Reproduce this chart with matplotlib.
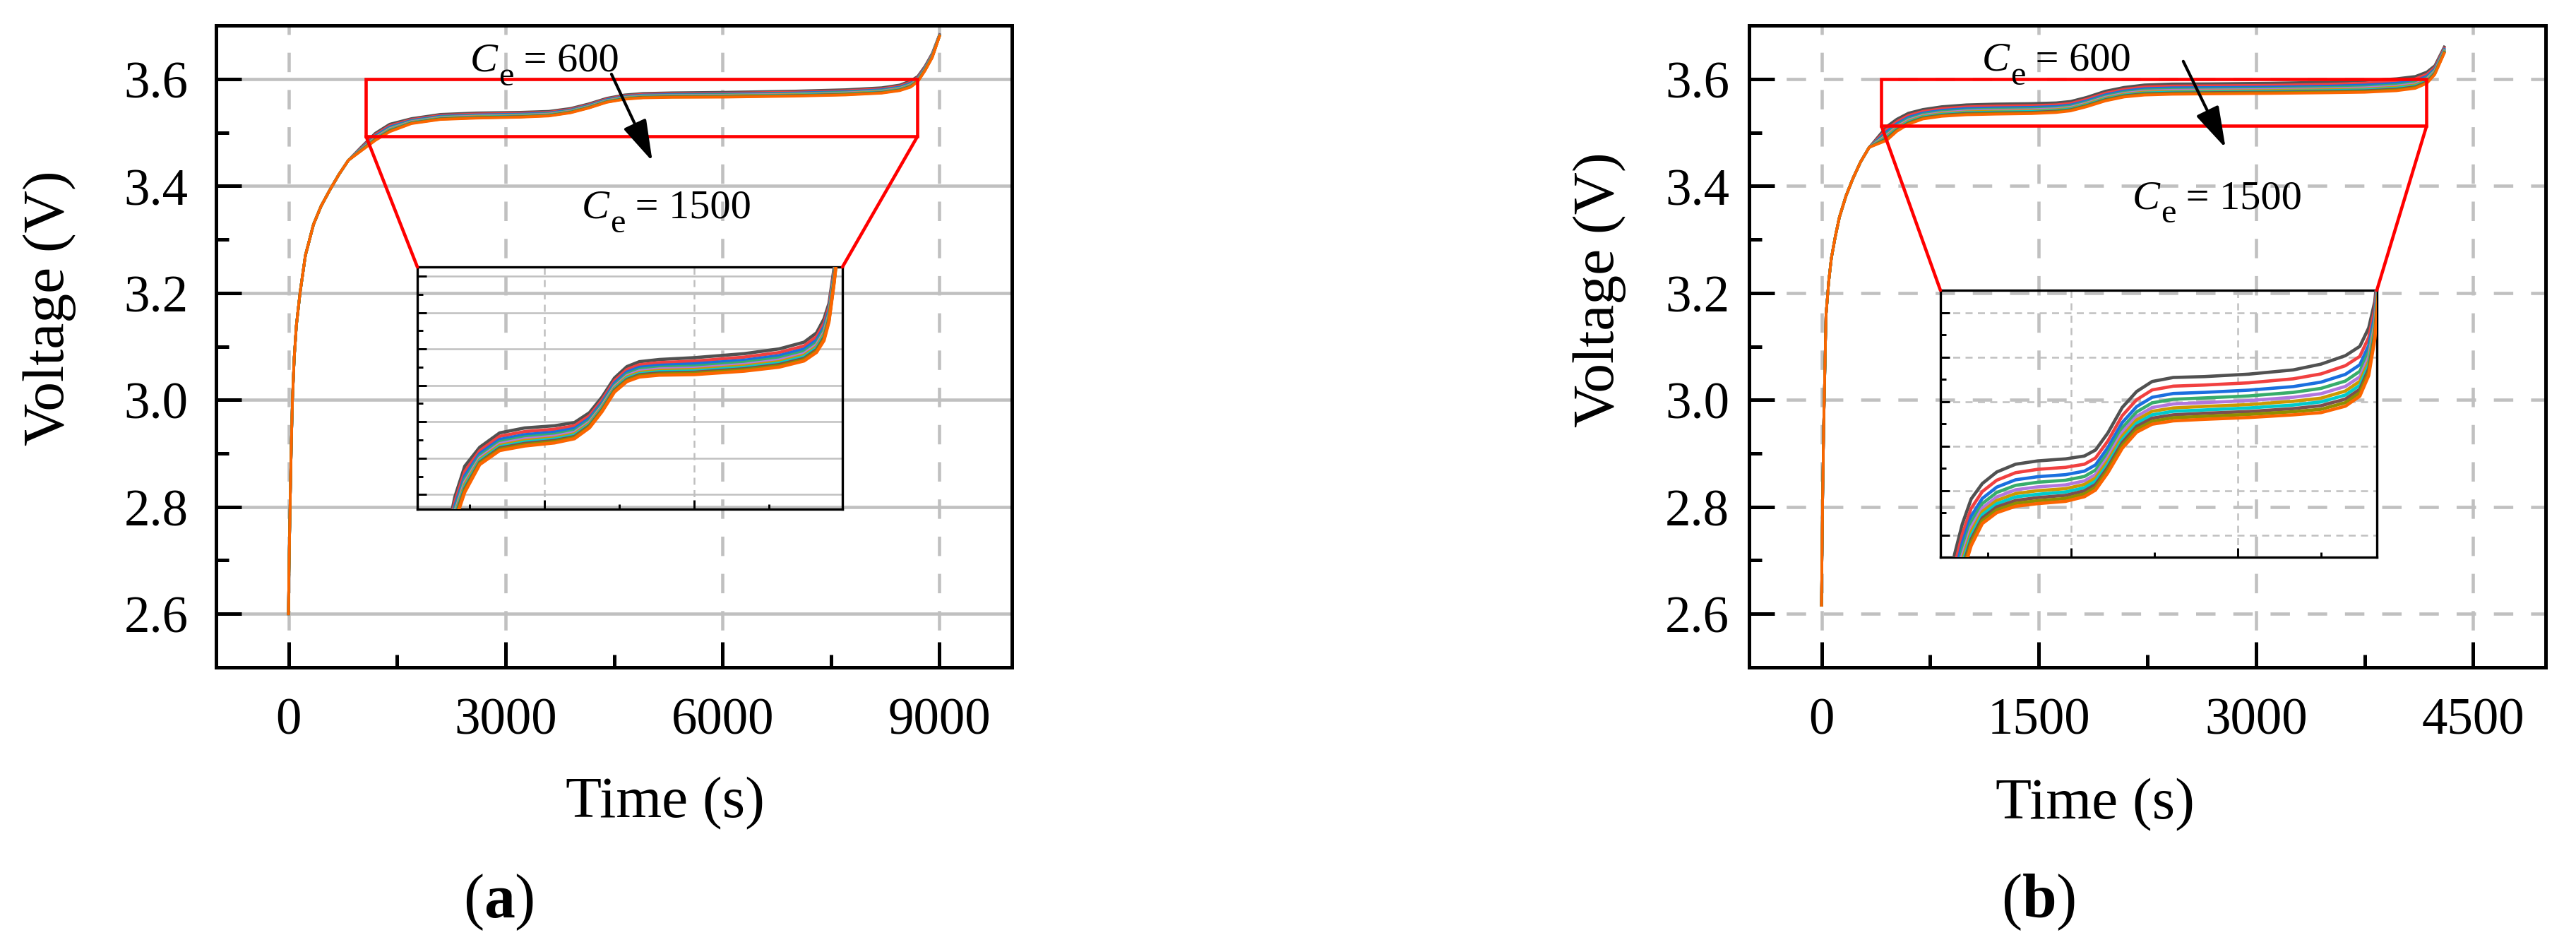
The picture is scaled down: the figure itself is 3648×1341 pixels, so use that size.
import matplotlib
matplotlib.use('Agg')
import matplotlib.pyplot as plt
from matplotlib.patches import Rectangle, ConnectionPatch
from matplotlib.ticker import MultipleLocator, FormatStrFormatter

plt.rcParams['font.family'] = ['Liberation Serif', 'DejaVu Serif']
plt.rcParams['mathtext.fontset'] = 'custom'
plt.rcParams['mathtext.rm'] = 'Liberation Serif'
plt.rcParams['mathtext.it'] = 'Liberation Serif:italic'
plt.rcParams['mathtext.bf'] = 'Liberation Serif:bold'

# C_e values of the curves (top to bottom)
ce_values = [600, 700, 800, 900, 1000, 1100, 1200, 1300, 1400, 1500]
colors = ['#515151', '#F14040', '#1A6FDF', '#37AD6B', '#B177DE',
          '#CC9900', '#00CBCC', '#7D4E4E', '#8E8E00', '#FB6501']

# ---- (a) : start part is common to all curves ----
time_a_start = [0, 5, 12, 25, 40, 55, 80, 110, 160, 234, 346, 450, 570, 700, 829]
volt_a_start = [2.600, 2.660, 2.720, 2.820, 2.920, 3.000, 3.080, 3.140, 3.200,
                3.270, 3.328, 3.362, 3.392, 3.422, 3.448]
time_a = [1000, 1200, 1400, 1700, 2100, 2600, 3200, 3600, 3900, 4150, 4400, 4650,
          4900, 5300, 6000, 7000, 7700, 8200, 8450, 8600, 8700, 8800, 8900, 9000]
volt_a = [
    [3.4720, 3.4986, 3.5156, 3.5260, 3.5339, 3.5366, 3.5378, 3.5396, 3.5450, 3.5535, 3.5640, 3.5703,
     3.5730, 3.5742, 3.5752, 3.5774, 3.5800, 3.5837, 3.5888, 3.5965, 3.6050, 3.6240, 3.6480, 3.6830],
    [3.4706, 3.4959, 3.5127, 3.5241, 3.5320, 3.5346, 3.5359, 3.5378, 3.5433, 3.5519, 3.5625, 3.5687,
     3.5713, 3.5725, 3.5733, 3.5755, 3.5780, 3.5816, 3.5867, 3.5941, 3.6030, 3.6223, 3.6464, 3.6824],
    [3.4694, 3.4936, 3.5103, 3.5225, 3.5303, 3.5329, 3.5343, 3.5363, 3.5419, 3.5505, 3.5612, 3.5673,
     3.5699, 3.5710, 3.5718, 3.5738, 3.5763, 3.5799, 3.5848, 3.5921, 3.6013, 3.6209, 3.6450, 3.6819],
    [3.4685, 3.4918, 3.5084, 3.5212, 3.5290, 3.5316, 3.5331, 3.5351, 3.5408, 3.5495, 3.5601, 3.5662,
     3.5688, 3.5699, 3.5705, 3.5726, 3.5750, 3.5785, 3.5834, 3.5905, 3.5999, 3.6197, 3.6440, 3.6815],
    [3.4677, 3.4903, 3.5069, 3.5202, 3.5280, 3.5306, 3.5321, 3.5342, 3.5399, 3.5486, 3.5593, 3.5653,
     3.5679, 3.5690, 3.5695, 3.5715, 3.5739, 3.5774, 3.5823, 3.5892, 3.5988, 3.6188, 3.6431, 3.6812],
    [3.4671, 3.4891, 3.5056, 3.5193, 3.5271, 3.5297, 3.5312, 3.5334, 3.5392, 3.5479, 3.5586, 3.5646,
     3.5671, 3.5682, 3.5687, 3.5707, 3.5730, 3.5765, 3.5813, 3.5882, 3.5979, 3.6180, 3.6424, 3.6809],
    [3.4665, 3.4880, 3.5044, 3.5186, 3.5263, 3.5289, 3.5305, 3.5327, 3.5385, 3.5473, 3.5580, 3.5639,
     3.5664, 3.5675, 3.5679, 3.5699, 3.5722, 3.5757, 3.5805, 3.5872, 3.5971, 3.6174, 3.6418, 3.6807],
    [3.4660, 3.4869, 3.5033, 3.5178, 3.5256, 3.5281, 3.5297, 3.5319, 3.5379, 3.5466, 3.5574, 3.5632,
     3.5658, 3.5668, 3.5672, 3.5691, 3.5714, 3.5748, 3.5796, 3.5863, 3.5963, 3.6167, 3.6411, 3.6804],
    [3.4655, 3.4860, 3.5023, 3.5172, 3.5249, 3.5274, 3.5291, 3.5313, 3.5373, 3.5461, 3.5568, 3.5627,
     3.5652, 3.5662, 3.5666, 3.5685, 3.5707, 3.5741, 3.5788, 3.5854, 3.5956, 3.6161, 3.6406, 3.6802],
    [3.4650, 3.4850, 3.5013, 3.5165, 3.5242, 3.5267, 3.5284, 3.5307, 3.5367, 3.5455, 3.5563, 3.5621,
     3.5646, 3.5656, 3.5659, 3.5678, 3.5700, 3.5734, 3.5781, 3.5846, 3.5949, 3.6155, 3.6400, 3.6800],
]

# ---- (b) ----
time_b_start = [0, 3, 8, 15, 31, 50, 68, 95, 124, 170, 217, 270, 329]
volt_b_start = [2.616, 2.700, 2.820, 2.950, 3.158, 3.222, 3.265, 3.305, 3.342,
                3.382, 3.414, 3.445, 3.472]
time_b = [450, 520, 600, 700, 830, 1000, 1200, 1450, 1620, 1720, 1830, 1960,
          2090, 2230, 2420, 2700, 3100, 3500, 3750, 3970, 4100, 4180, 4235, 4300]
volt_b = [
    [3.5112, 3.5249, 3.5362, 3.5431, 3.5483, 3.5518, 3.5533, 3.5542, 3.5555, 3.5582, 3.5658, 3.5773,
     3.5845, 3.5890, 3.5908, 3.5912, 3.5923, 3.5942, 3.5968, 3.6006, 3.6048, 3.6131, 3.6250, 3.6600],
    [3.5060, 3.5203, 3.5320, 3.5395, 3.5446, 3.5480, 3.5495, 3.5504, 3.5518, 3.5546, 3.5622, 3.5736,
     3.5808, 3.5852, 3.5869, 3.5874, 3.5884, 3.5902, 3.5924, 3.5961, 3.6003, 3.6088, 3.6216, 3.6576],
    [3.5015, 3.5164, 3.5284, 3.5364, 3.5415, 3.5448, 3.5462, 3.5471, 3.5487, 3.5515, 3.5592, 3.5705,
     3.5777, 3.5819, 3.5836, 3.5841, 3.5851, 3.5867, 3.5887, 3.5922, 3.5965, 3.6052, 3.6188, 3.6556],
    [3.4981, 3.5134, 3.5257, 3.5341, 3.5391, 3.5423, 3.5437, 3.5446, 3.5463, 3.5492, 3.5568, 3.5681,
     3.5753, 3.5794, 3.5810, 3.5816, 3.5825, 3.5841, 3.5859, 3.5892, 3.5936, 3.6024, 3.6166, 3.6540],
    [3.4952, 3.5109, 3.5234, 3.5321, 3.5371, 3.5403, 3.5416, 3.5425, 3.5443, 3.5472, 3.5549, 3.5661,
     3.5733, 3.5773, 3.5789, 3.5795, 3.5804, 3.5819, 3.5835, 3.5868, 3.5911, 3.6000, 3.6148, 3.6527],
    [3.4929, 3.5089, 3.5215, 3.5305, 3.5355, 3.5386, 3.5399, 3.5408, 3.5427, 3.5456, 3.5533, 3.5644,
     3.5717, 3.5756, 3.5771, 3.5778, 3.5786, 3.5801, 3.5815, 3.5847, 3.5891, 3.5981, 3.6132, 3.6516],
    [3.4908, 3.5070, 3.5198, 3.5291, 3.5340, 3.5371, 3.5383, 3.5393, 3.5412, 3.5442, 3.5518, 3.5629,
     3.5702, 3.5740, 3.5756, 3.5762, 3.5771, 3.5784, 3.5798, 3.5829, 3.5873, 3.5964, 3.6119, 3.6506],
    [3.4887, 3.5052, 3.5181, 3.5276, 3.5326, 3.5355, 3.5368, 3.5378, 3.5398, 3.5427, 3.5504, 3.5615,
     3.5688, 3.5725, 3.5740, 3.5747, 3.5755, 3.5768, 3.5781, 3.5811, 3.5855, 3.5947, 3.6106, 3.6497],
    [3.4868, 3.5036, 3.5167, 3.5264, 3.5313, 3.5342, 3.5354, 3.5364, 3.5385, 3.5415, 3.5492, 3.5602,
     3.5675, 3.5711, 3.5727, 3.5733, 3.5742, 3.5754, 3.5765, 3.5795, 3.5840, 3.5932, 3.6094, 3.6488],
    [3.4850, 3.5020, 3.5152, 3.5251, 3.5300, 3.5329, 3.5341, 3.5351, 3.5372, 3.5402, 3.5479, 3.5589,
     3.5662, 3.5698, 3.5713, 3.5720, 3.5728, 3.5740, 3.5750, 3.5779, 3.5824, 3.5917, 3.6082, 3.6480],
]

GRID = '#c0c0c0'


def plot_curves(ax, t_start, v_start, t, rows, lw):
    for k, row in enumerate(rows):
        ax.plot(t_start + t, v_start + row, color=colors[k], lw=lw, zorder=3)


def style_main(ax, xlim, xmajor, ylab_pad, hgrid_ls):
    ax.set_xlim(*xlim)
    ax.set_ylim(2.5, 3.7)
    ax.xaxis.set_major_locator(MultipleLocator(xmajor))
    ax.xaxis.set_minor_locator(MultipleLocator(xmajor / 2))
    ax.yaxis.set_major_locator(MultipleLocator(0.2))
    ax.yaxis.set_minor_locator(MultipleLocator(0.1))
    ax.yaxis.set_major_formatter(FormatStrFormatter('%.1f'))
    ax.tick_params(which='both', direction='in', top=False, right=False, width=1.2)
    ax.tick_params(which='major', length=8.6, labelsize=17.5)
    ax.tick_params(axis='x', which='major', pad=10)
    ax.tick_params(axis='y', which='major', pad=ylab_pad)
    ax.tick_params(which='minor', length=4.3)
    for s in ax.spines.values():
        s.set_linewidth(1.2)
    ax.set_axisbelow(True)
    ax.xaxis.grid(True, color=GRID, lw=1.1, ls=(0, (6, 5.5)))
    ax.yaxis.grid(True, color=GRID, lw=1.1, ls=hgrid_ls)


def style_inset(ins, xlim, ylim, xmajor, hgrid_ls):
    ins.set_xlim(*xlim)
    ins.set_ylim(*ylim)
    ins.set_facecolor('none')
    ins.xaxis.set_major_locator(MultipleLocator(xmajor))
    ins.xaxis.set_minor_locator(MultipleLocator(xmajor / 2))
    ins.yaxis.set_major_locator(MultipleLocator(0.02))
    ins.yaxis.set_minor_locator(MultipleLocator(0.01))
    ins.tick_params(which='both', direction='in', top=False, right=False,
                    labelbottom=False, labelleft=False, width=0.7)
    ins.tick_params(which='major', length=3.2)
    ins.tick_params(which='minor', length=1.8)
    for s in ins.spines.values():
        s.set_linewidth(0.8)
    ins.set_axisbelow(True)
    ins.xaxis.grid(True, color=GRID, lw=0.6, ls=(0, (4, 3)))
    ins.yaxis.grid(True, color=GRID, lw=0.6, ls=hgrid_ls)


def zoom_box(fig, ax, ins, x0, x1, y0, y1):
    ax.add_patch(Rectangle((x0, y0), x1 - x0, y1 - y0, fill=False,
                           ec='red', lw=1.1, zorder=6))
    for xa, xb in [(x0, 0), (x1, 1)]:
        con = ConnectionPatch(xyA=(xa, y0), coordsA=ax.transData,
                              xyB=(xb, 1), coordsB=ins.transAxes,
                              color='red', lw=1.1)
        fig.add_artist(con)


def ce_text(ax, xy, value):
    # italic C, large lowered subscript e, then "= value"
    ax.text(xy[0], xy[1], 'C', style='italic', fontsize=14,
            ha='left', va='baseline', zorder=7)
    ax.annotate('e', xy=xy, xytext=(9.6, -4.8), textcoords='offset points',
                fontsize=11.6, ha='left', va='baseline', zorder=7)
    ax.annotate(f' = {value}', xy=xy, xytext=(14.6, 0), textcoords='offset points',
                fontsize=14, ha='left', va='baseline', zorder=7)


def label_ce(ax, p600, p1500, arrow_from, arrow_to):
    ce_text(ax, p600, ce_values[0])
    ce_text(ax, p1500, ce_values[-1])
    ax.annotate('', xy=arrow_to, xytext=arrow_from, zorder=7,
                arrowprops=dict(arrowstyle='-|>,head_length=1.0,head_width=0.3',
                                mutation_scale=12, color='black', lw=1.0,
                                shrinkA=0, shrinkB=0))


fig = plt.figure(figsize=(12.16, 4.4733), dpi=300)
ax1 = fig.add_axes([0.0839, 0.2951, 0.3089, 0.6773])
ax2 = fig.add_axes([0.6790, 0.2951, 0.3092, 0.6773])

# panel (a)
plot_curves(ax1, time_a_start, volt_a_start, time_a, volt_a, 0.9)
style_main(ax1, (-1000, 10000), 3000, 9.5, '-')
ax1.set_xlabel('Time (s)', fontsize=20)
ax1.set_ylabel('Voltage (V)', fontsize=20)
ax1.xaxis.set_label_coords(0.564, -0.211)
ax1.xaxis.label.set_va('center')
ax1.yaxis.set_label_coords(-0.209, 0.561)
ax1.yaxis.label.set_va('center')

ins1 = ax1.inset_axes([0.2529, 0.2464, 0.5342, 0.3773])
plot_curves(ins1, time_a_start, volt_a_start, time_a, volt_a, 1.1)
style_inset(ins1, (450, 8970), (3.492, 3.625), 3000, '-')
zoom_box(fig, ax1, ins1, 1072, 8697, 3.493, 3.600)
label_ce(ax1, (2515, 3.616), (4056, 3.341), (4465, 3.609), (5031, 3.446))

# panel (b)
plot_curves(ax2, time_b_start, volt_b_start, time_b, volt_b, 0.9)
style_main(ax2, (-500, 5000), 1500, 6.7, (0, (6, 5.5)))
ax2.set_xlabel('Time (s)', fontsize=20)
ax2.set_ylabel('Voltage (V)', fontsize=20)
ax2.xaxis.set_label_coords(0.434, -0.213)
ax2.xaxis.label.set_va('center')
ax2.yaxis.set_label_coords(-0.188, 0.590)
ax2.yaxis.label.set_va('center')

ins2 = ax2.inset_axes([0.2402, 0.1716, 0.5479, 0.4158])
plot_curves(ins2, time_b_start, volt_b_start, time_b, volt_b, 1.1)
style_inset(ins2, (323, 4253), (3.51, 3.63), 1500, (0, (4, 3)))
zoom_box(fig, ax2, ins2, 414, 4178, 3.512, 3.600)
label_ce(ax2, (1110, 3.617), (2148, 3.359), (2498, 3.633), (2790, 3.471))

fig.text(0.1935, 0.0477, r'($\mathbf{a}$)', fontsize=21, ha='center', va='center')
fig.text(0.7914, 0.0477, r'($\mathbf{b}$)', fontsize=21, ha='center', va='center')

fig.savefig('out.png', dpi=300, facecolor='white')
